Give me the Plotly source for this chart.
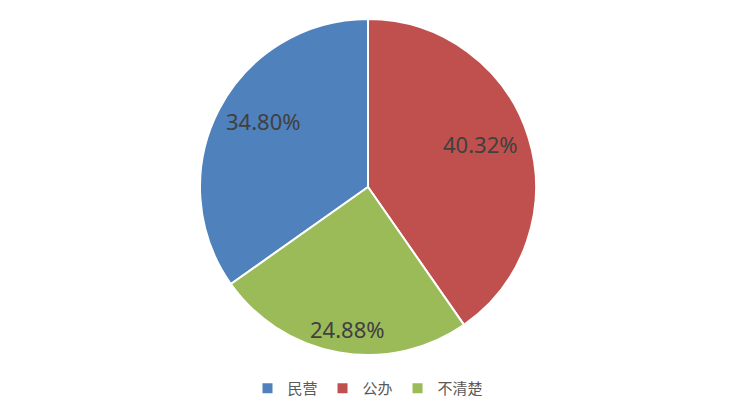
import math
import plotly.graph_objects as go

categories = ["民营", "公办", "不清楚"]
values = [34.80, 40.32, 24.88]
colors = ["#4F81BD", "#C0504D", "#9BBB59"]

W, H = 736, 415
ML, MR, MT, MB = 0, 16, 11, 68  # page has 8px body margin
PW, PH = W - ML - MR, H - MT - MB
R = min(PW, PH) / 2

total = sum(values)
start = 360 - values[0] / total * 360

fig = go.Figure(go.Pie(
    labels=categories,
    values=values,
    sort=False,
    direction="clockwise",
    rotation=-values[0] / total * 360,
    marker=dict(colors=colors, line=dict(color="white", width=2)),
    textinfo="none",
    hoverinfo="label+percent",
))

# percentage labels placed like the original (on an ellipse inside the pie)
KX, KY = 0.70, 0.86
ann = []
ang = start
for lab, v in zip(categories, values):
    span = v / total * 360
    mid = math.radians(ang + span / 2)
    dx, dy = math.sin(mid), math.cos(mid)
    px = 0.5 + KX * R * dx / PW
    py = 0.5 + KY * R * dy / PH
    ann.append(dict(
        x=px, y=py, xref="paper", yref="paper",
        text=f"{v / total * 100:.2f}%", showarrow=False,
        xanchor="center", yanchor="middle",
        font=dict(family="Noto Sans, sans-serif", size=22, color="#404040"),
    ))
    ang = (ang + span) % 360

fig.update_layout(
    width=W, height=H,
    margin=dict(l=ML, r=MR, t=MT, b=MB),
    paper_bgcolor="white",
    plot_bgcolor="white",
    showlegend=True,
    annotations=ann,
    legend=dict(
        orientation="h",
        x=0.5, xanchor="center",
        y=-0.1, yanchor="middle",
        font=dict(family="Noto Sans CJK SC, sans-serif", size=15, color="#595959"),
        itemwidth=30,
        traceorder="normal",
    ),
)

fig.write_html("out.html")
